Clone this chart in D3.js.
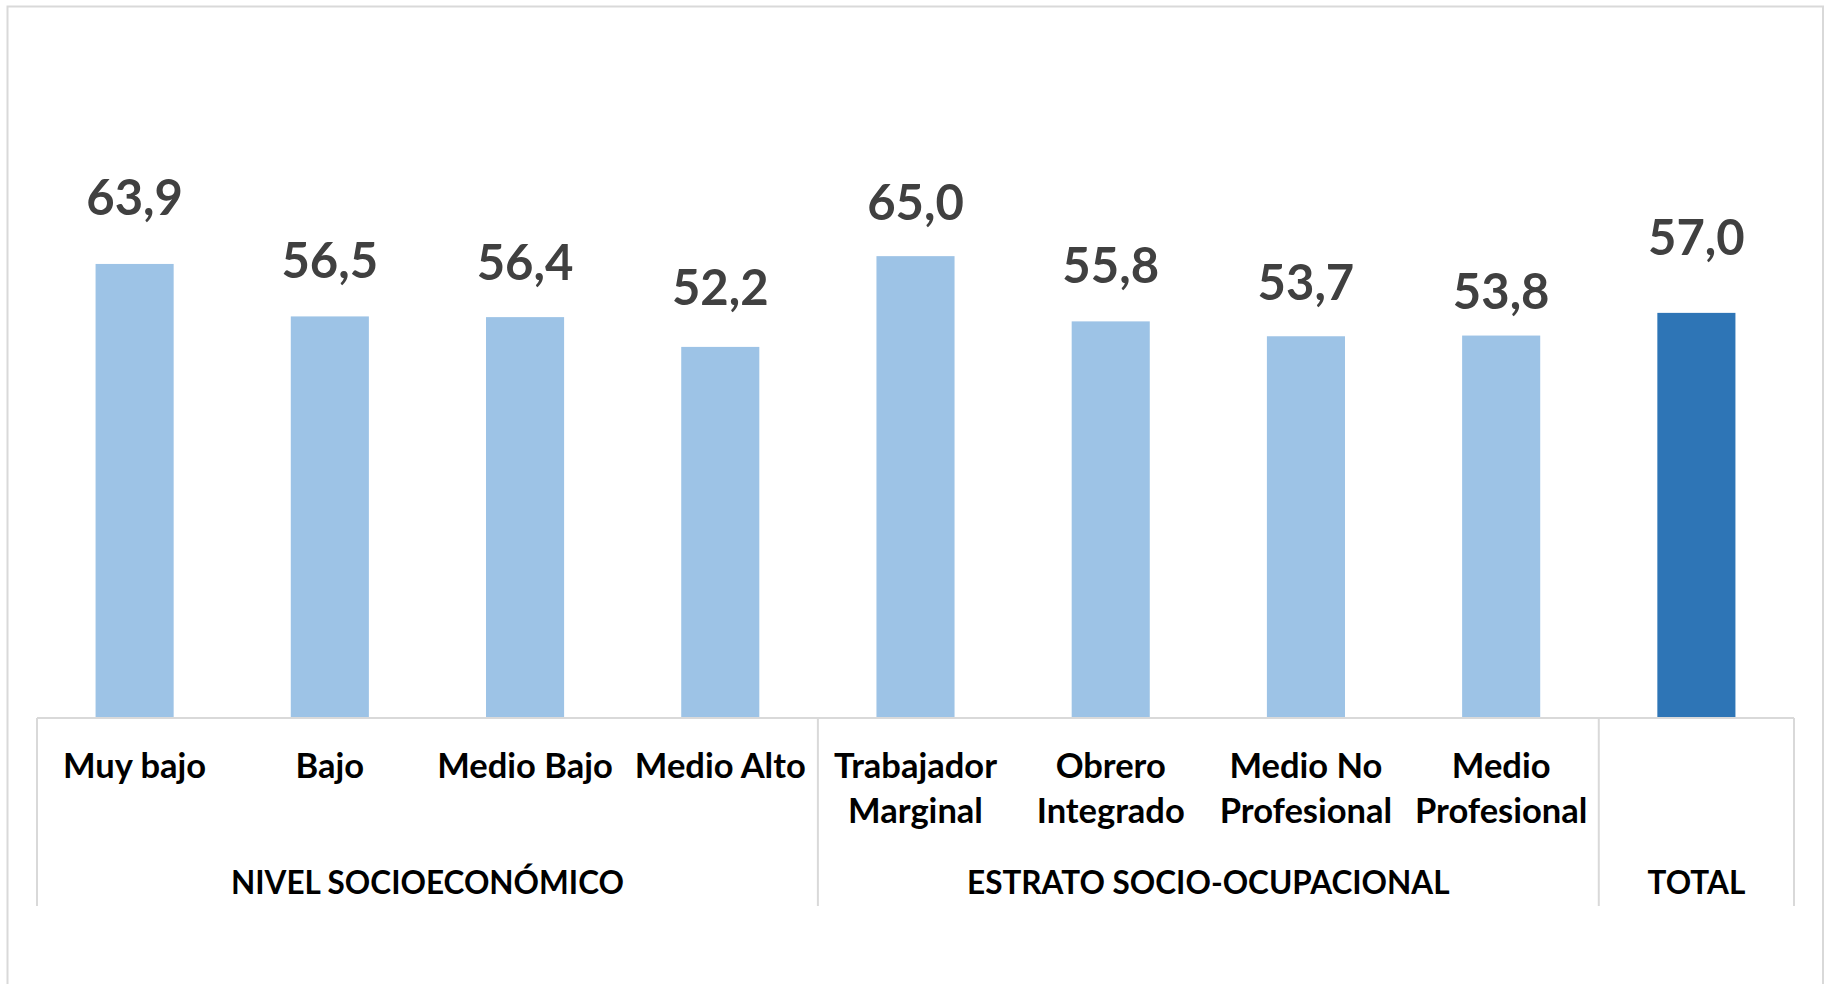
<!DOCTYPE html>
<html>
<head>
<meta charset="utf-8">
<script src="https://cdn.jsdelivr.net/npm/d3@7/dist/d3.min.js"></script>
<style>
  html, body { margin: 0; padding: 0; background: #fff; }
  svg { display: block; font-family: Lato, "Open Sans", sans-serif; }
</style>
</head>
<body>
<svg id="chart" width="1825" height="984"></svg>
<script>
// ---- data ----
const categories = ["Muy bajo", "Bajo", "Medio Bajo", "Medio Alto",
  "Trabajador\nMarginal", "Obrero\nIntegrado", "Medio No\nProfesional", "Medio\nProfesional", ""];
const values = [63.9, 56.5, 56.4, 52.2, 65.0, 55.8, 53.7, 53.8, 57.0];
const groups = ["NIVEL SOCIOECONÓMICO", "ESTRATO SOCIO-OCUPACIONAL", "TOTAL"];
const groupSizes = [4, 4, 1];
const isTotal = [false, false, false, false, false, false, false, false, true];

// ---- layout ----
const W = 1825, H = 984;
const axisLeft = 37, axisRight = 1794, axisY = 717;
const labelLift = [49, 38, 37, 42, 36, 38, 36, 27, 58]; // manual label placement above bars

const svg = d3.select("#chart");

// outer frame
svg.append("rect")
  .attr("x", 7.5).attr("y", 6.5)
  .attr("width", 1823 - 7.5).attr("height", 1000)
  .attr("fill", "none").attr("stroke", "#d9d9d9").attr("stroke-width", 2);

const x = d3.scaleBand()
  .domain(d3.range(categories.length))
  .range([axisLeft, axisRight])
  .paddingInner(0.6).paddingOuter(0.3);

const y = d3.scaleLinear().domain([0, 80]).range([axisY, axisY - 80 * 7.09]);

// bars
svg.append("g").selectAll("rect")
  .data(values)
  .join("rect")
  .attr("x", (d, i) => x(i))
  .attr("width", x.bandwidth())
  .attr("y", d => y(d))
  .attr("height", d => y(0) - y(d))
  .attr("fill", (d, i) => isTotal[i] ? "#2e75b6" : "#9dc3e6");

// value labels
const fmt = v => v.toFixed(1).replace(".", ",");
svg.append("g").selectAll("text")
  .data(values)
  .join("text")
  .attr("x", (d, i) => x(i) + x.bandwidth() / 2)
  .attr("y", (d, i) => y(d) - labelLift[i])
  .attr("text-anchor", "middle")
  .attr("font-size", 49)
  .attr("font-weight", 700)
  .attr("fill", "#404040")
  .text(d => fmt(d));

// category axis line
const gAxis = svg.append("g");
gAxis.append("line")
  .attr("x1", axisLeft).attr("x2", axisRight)
  .attr("y1", axisY + 1).attr("y2", axisY + 1)
  .attr("stroke", "#d9d9d9").attr("stroke-width", 2);

// group separators
const step = x.step();
const edgeX = i => axisLeft + i * step;
let bounds = [0];
groupSizes.forEach(s => bounds.push(bounds[bounds.length - 1] + s));
gAxis.selectAll("line.sep")
  .data(bounds)
  .join("line")
  .attr("class", "sep")
  .attr("x1", b => edgeX(b)).attr("x2", b => edgeX(b))
  .attr("y1", axisY + 1).attr("y2", 906)
  .attr("stroke", "#d9d9d9").attr("stroke-width", 2);

// category labels
const catG = svg.append("g");
categories.forEach((c, i) => {
  const t = catG.append("text")
    .attr("x", x(i) + x.bandwidth() / 2)
    .attr("y", 778)
    .attr("text-anchor", "middle")
    .attr("font-size", 34.5)
    .attr("font-weight", 700)
    .attr("fill", "#000");
  c.split("\n").forEach((line, k) => {
    t.append("tspan")
      .attr("x", x(i) + x.bandwidth() / 2)
      .attr("y", 778 + k * 44.5)
      .text(line);
  });
});

// group labels
svg.append("g").selectAll("text")
  .data(groups)
  .join("text")
  .attr("x", (g, j) => (edgeX(bounds[j]) + edgeX(bounds[j + 1])) / 2)
  .attr("y", 894)
  .attr("text-anchor", "middle")
  .attr("font-size", 31.5)
  .attr("font-weight", 700)
  .attr("fill", "#000")
  .text(g => g);
</script>
</body>
</html>
